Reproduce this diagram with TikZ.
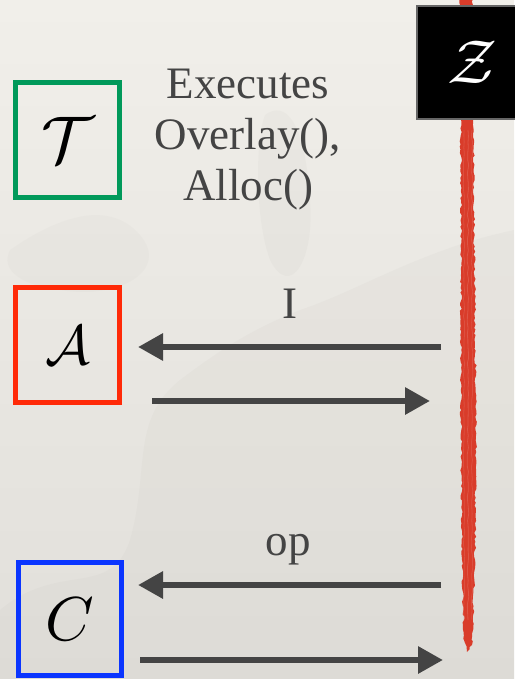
\documentclass[tikz,border=0pt]{standalone}
\usepackage{fontspec}
\setmainfont{Liberation Serif}
\usetikzlibrary{arrows.meta,decorations.pathmorphing}
\definecolor{bgtop}{HTML}{F1EFEA}
\definecolor{bgbot}{HTML}{E1DFDA}
\definecolor{ink}{HTML}{444444}
\definecolor{tgreen}{HTML}{00995A}
\definecolor{ared}{HTML}{FF2A08}
\definecolor{cblue}{HTML}{0A35FF}
\definecolor{brush}{HTML}{D93C2A}
\definecolor{shadow}{HTML}{9C9890}
\tikzset{
  party/.style={draw=#1, line width=5pt, minimum width=104pt, minimum height=115pt,
                inner sep=0pt},
  msg/.style={draw=ink, line width=6pt, -{Triangle[length=25pt,width=26pt]}},
  lbl/.style={text=ink, font=\fontsize{45}{51}\selectfont, align=center, inner sep=0pt}
}
\begin{document}
\begin{tikzpicture}[x=1pt,y=-1pt]
% paper background
\shade[top color=bgtop, bottom color=bgbot] (0,0) rectangle (514,679);
\useasboundingbox (0,0) rectangle (514,679);
% faint silhouettes in the paper
\fill[shadow, opacity=0.05] (0,610) .. controls (60,560) and (110,600) .. (130,540)
   .. controls (150,470) and (130,420) .. (180,380) .. controls (220,350) and (250,330) .. (300,310)
   .. controls (360,290) and (420,250) .. (514,230) -- (514,679) -- (0,679) -- cycle;
\fill[shadow, opacity=0.04] (10,250) .. controls (60,215) and (110,200) .. (140,235)
   .. controls (170,270) and (120,300) .. (60,290) .. controls (20,285) and (0,270) .. cycle;
\fill[shadow, opacity=0.05] (265,115) .. controls (285,100) and (305,120) .. (310,200)
   .. controls (315,260) and (290,300) .. (270,260) .. controls (255,220) and (255,140) .. cycle;

% Z's lifeline, a rough brush stroke
\fill[brush, decorate, decoration={random steps, segment length=3pt, amplitude=1.1pt}]
  (460,-3) -- (461,200) -- (461,420) -- (462,560) -- (464,640) -- (467,652)
  -- (472,645) -- (475,560) -- (476,420) -- (474,200) -- (472,-3) -- cycle;
\foreach \dx/\op in {-4/0.35, 0/0.45, 4/0.35}
  \draw[brush!70!white, line width=0.8pt, opacity=\op, decorate,
        decoration={random steps, segment length=6pt, amplitude=0.8pt}]
    (468+\dx,130) -- (468+\dx,620);

% parties
\node[party=tgreen] (T) at (67.5,140) {\scalebox{6.6}{$\mathcal{T}$}};
\node[party=ared]   (A) at (67.5,345) {\scalebox{5.6}{$\mathcal{A}$}};
\node[party=cblue, minimum width=103pt, minimum height=113pt] (C) at (70,619) {\scalebox{6.2}{$C$}};
\node[draw=black!60, line width=2.5pt, fill=black, text=white, minimum width=110pt,
      minimum height=113pt, inner sep=0pt] (Z) at (472,62.5) {\scalebox{6.2}{$\mathcal{Z}$}};

% what T does
\node[lbl] (exec) at (248,140) {Executes\\Overlay(),\\Alloc()};

% message endpoints
\coordinate (zA1) at (441,347);
\coordinate (aA1) at (138,347);
\coordinate (aA2) at (152,401);
\coordinate (zA2) at (430,401);
\coordinate (zC1) at (441,585);
\coordinate (cC1) at (138,585);
\coordinate (cC2) at (140,660);
\coordinate (zC2) at (443,660);

% messages between Z and the parties
\draw[msg] (zA1) -- (aA1);
\draw[msg] (aA2) -- (zA2);
\draw[msg] (zC1) -- (cC1);
\draw[msg] (cC2) -- (zC2);

\node[lbl, anchor=base] (I) at (290,318) {I};
\node[lbl, anchor=base] (op) at (288,555) {op};
\end{tikzpicture}
\end{document}
